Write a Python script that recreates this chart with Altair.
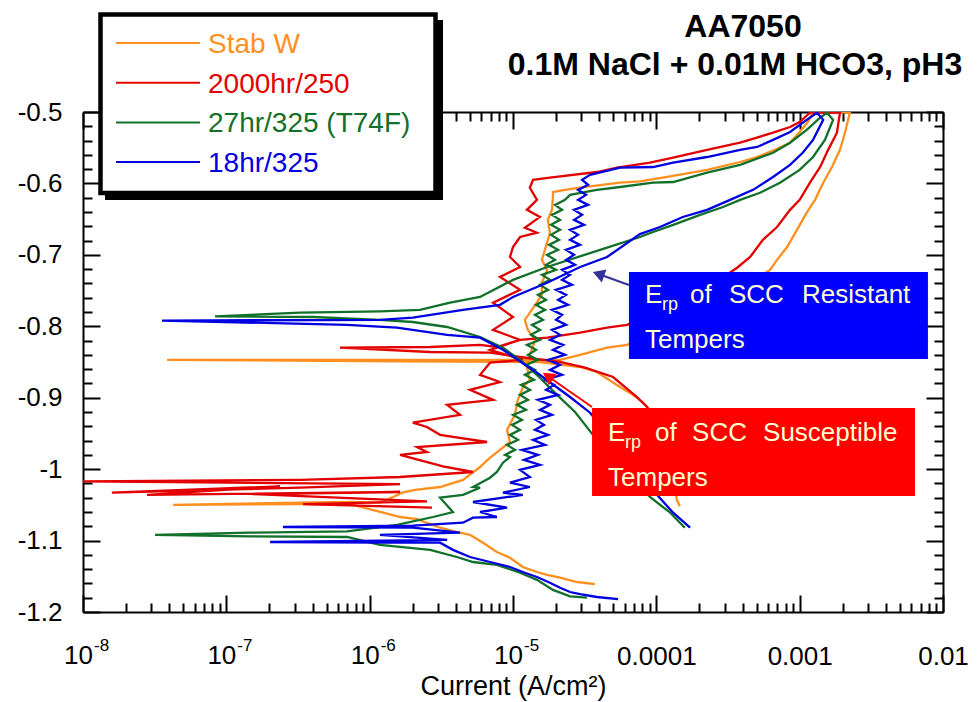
import altair as alt
import pandas as pd

FONT = "Liberation Sans"

SERIES = ["Stab W", "2000hr/250", "27hr/325 (T74F)", "18hr/325"]
COLORS = ["#FF8F1F", "#E30000", "#11702A", "#0000E0"]

# (current A/cm2, potential V) in scan order
stab_w = [
    (3.73e-5, -1.161), (2.80e-5, -1.158), (2.13e-5, -1.152), (1.73e-5, -1.148), (1.47e-5, -1.144),
    (1.17e-5, -1.137), (9.53e-6, -1.124), (7.72e-6, -1.116), (6.18e-6, -1.103), (5.01e-6, -1.092),
    (4.06e-6, -1.088), (3.10e-6, -1.082), (2.14e-6, -1.070), (1.63e-6, -1.067), (1.24e-6, -1.061),
    (7.66e-7, -1.050), (3.27e-7, -1.049), (4.25e-8, -1.050), (3.27e-7, -1.047), (7.30e-7, -1.046),
    (1.18e-6, -1.047), (1.46e-6, -1.039), (1.68e-6, -1.033), (2.07e-6, -1.029), (3.10e-6, -1.025),
    (4.48e-6, -1.015), (5.89e-6, -0.997), (6.92e-6, -0.984), (8.11e-6, -0.973), (9.53e-6, -0.962),
    (9.08e-6, -0.945), (1.03e-5, -0.924), (1.08e-5, -0.903), (1.17e-5, -0.886), (1.31e-5, -0.875),
    (1.25e-5, -0.857), (1.31e-5, -0.840), (1.43e-5, -0.819), (1.27e-5, -0.805), (1.21e-5, -0.791),
    (1.43e-5, -0.770), (1.59e-5, -0.756), (1.59e-5, -0.739), (1.73e-5, -0.721), (1.59e-5, -0.707),
    (1.67e-5, -0.693), (1.81e-5, -0.669), (1.75e-5, -0.651), (1.87e-5, -0.637), (1.90e-5, -0.619),
    (1.90e-5, -0.612), (2.31e-5, -0.609), (2.94e-5, -0.606), (5.58e-5, -0.599), (7.69e-5, -0.597),
    (1.25e-4, -0.590), (2.26e-4, -0.581), (3.84e-4, -0.570), (5.04e-4, -0.563), (6.73e-4, -0.553),
    (8.57e-4, -0.543), (1.00e-3, -0.528), (1.14e-3, -0.514), (1.24e-3, -0.500), (2.24e-3, -0.501),
    (2.07e-3, -0.529), (1.91e-3, -0.553), (1.68e-3, -0.577), (1.46e-3, -0.599), (1.28e-3, -0.623),
    (1.12e-3, -0.641), (9.57e-4, -0.665), (8.17e-4, -0.689), (6.95e-4, -0.707), (6.21e-4, -0.721),
    (2.02e-4, -0.784), (6.24e-5, -0.826), (4.53e-5, -0.830), (2.94e-5, -0.840), (2.13e-5, -0.847),
    (1.54e-5, -0.847), (1.63e-6, -0.847), (3.86e-8, -0.847), (1.63e-6, -0.849), (1.54e-5, -0.850),
    (2.94e-5, -0.857), (3.85e-5, -0.864), (5.58e-5, -0.885), (6.87e-5, -0.896), (8.07e-5, -0.907),
    (9.80e-5, -0.924), (1.15e-4, -0.959), (1.29e-4, -1.001), (1.39e-4, -1.043), (1.46e-4, -1.052),
]

hr2000_250 = [
    (2.72e-6, -1.054), (3.43e-7, -1.049), (2.51e-6, -1.045), (1.53e-7, -1.035), (1.63e-6, -1.032),
    (2.80e-8, -1.036), (2.37e-7, -1.024), (1.59e-8, -1.033), (3.27e-7, -1.026), (1.63e-6, -1.021),
    (1.00e-8, -1.017), (3.27e-7, -1.015), (1.63e-6, -1.011), (5.26e-6, -1.004), (3.25e-6, -0.996),
    (1.63e-6, -0.980), (2.51e-6, -0.976), (2.14e-6, -0.969), (6.59e-6, -0.962), (3.10e-6, -0.952),
    (2.51e-6, -0.941), (2.00e-6, -0.935), (4.27e-6, -0.924), (3.47e-6, -0.910), (7.26e-6, -0.903),
    (5.01e-6, -0.889), (8.11e-6, -0.878), (5.89e-6, -0.868), (6.92e-6, -0.851), (1.17e-5, -0.847),
    (6.92e-6, -0.833), (1.12e-5, -0.819), (7.26e-6, -0.805), (1.00e-5, -0.787), (7.26e-6, -0.767),
    (1.12e-5, -0.749), (8.11e-6, -0.731), (1.12e-5, -0.717), (9.53e-6, -0.703), (1.00e-5, -0.689),
    (1.12e-5, -0.675), (1.47e-5, -0.669), (1.21e-5, -0.662), (1.54e-5, -0.647), (1.25e-5, -0.637),
    (1.47e-5, -0.623), (1.31e-5, -0.606), (1.38e-5, -0.595), (1.81e-5, -0.592), (3.85e-5, -0.584),
    (5.32e-5, -0.578), (9.03e-5, -0.571), (1.31e-4, -0.564), (2.26e-4, -0.553), (3.84e-4, -0.543),
    (6.52e-4, -0.529), (8.57e-4, -0.521), (1.00e-3, -0.514), (1.18e-3, -0.501), (1.91e-3, -0.501),
    (1.82e-3, -0.529), (1.58e-3, -0.553), (1.39e-3, -0.577), (1.18e-3, -0.599), (1.00e-3, -0.623),
    (8.57e-4, -0.637), (6.95e-4, -0.661), (5.54e-4, -0.679), (4.51e-4, -0.703), (3.66e-4, -0.718),
    (1.72e-4, -0.763), (6.24e-5, -0.798), (4.53e-5, -0.802), (2.94e-5, -0.809), (1.73e-5, -0.816),
    (1.12e-5, -0.819), (7.72e-6, -0.829), (5.89e-6, -0.826), (2.64e-6, -0.829), (6.21e-7, -0.830),
    (2.64e-6, -0.836), (6.92e-6, -0.837), (1.12e-5, -0.843), (2.13e-5, -0.850), (3.18e-5, -0.858),
    (4.99e-5, -0.871), (7.33e-5, -0.899), (8.61e-5, -0.913), (1.03e-4, -0.945), (1.15e-4, -0.987),
    (1.21e-4, -1.022),
]

hr27_325 = [
    (3.28e-5, -1.180), (2.50e-5, -1.178), (1.90e-5, -1.169), (1.47e-5, -1.155), (1.12e-5, -1.145),
    (7.72e-6, -1.134), (5.26e-6, -1.130), (4.06e-6, -1.123), (2.64e-6, -1.113), (1.18e-6, -1.106),
    (6.95e-7, -1.095), (1.46e-7, -1.094), (3.18e-8, -1.092), (1.46e-7, -1.089), (6.95e-7, -1.087),
    (1.55e-6, -1.078), (2.77e-6, -1.067), (3.81e-6, -1.060), (3.10e-6, -1.040), (4.48e-6, -1.036),
    (5.89e-6, -1.026), (5.26e-6, -1.025), (6.92e-6, -1.012), (7.72e-6, -1.004), (8.51e-6, -0.991),
    (9.53e-6, -0.983), (8.80e-6, -0.980), (1.033e-5, -0.973), (9.08e-6, -0.966), (1.083e-5, -0.959),
    (9.53e-6, -0.952), (1.119e-5, -0.945), (9.84e-6, -0.938), (1.155e-5, -0.931), (1.00e-5, -0.924),
    (1.232e-5, -0.917), (1.066e-5, -0.910), (1.272e-5, -0.903), (1.119e-5, -0.896), (1.314e-5, -0.889),
    (1.137e-5, -0.882), (1.401e-5, -0.875), (1.212e-5, -0.868), (1.424e-5, -0.861), (1.232e-5, -0.854),
    (1.494e-5, -0.847), (1.272e-5, -0.840), (1.447e-5, -0.833), (1.252e-5, -0.826), (1.543e-5, -0.819),
    (1.335e-5, -0.812), (1.543e-5, -0.805), (1.357e-5, -0.798), (1.620e-5, -0.791), (1.424e-5, -0.784),
    (1.672e-5, -0.777), (1.447e-5, -0.770), (1.700e-5, -0.763), (1.494e-5, -0.756), (1.755e-5, -0.749),
    (1.543e-5, -0.742), (1.813e-5, -0.735), (1.594e-5, -0.728), (1.997e-5, -0.721), (1.700e-5, -0.714),
    (1.965e-5, -0.707), (1.727e-5, -0.700), (2.062e-5, -0.693), (1.784e-5, -0.686), (2.095e-5, -0.679),
    (1.842e-5, -0.672), (2.129e-5, -0.665), (1.842e-5, -0.658), (2.129e-5, -0.651), (1.872e-5, -0.644),
    (2.199e-5, -0.637), (1.965e-5, -0.630), (2.307e-5, -0.623), (2.501e-5, -0.616),
    (3.85e-5, -0.609), (5.58e-5, -0.605), (9.48e-5, -0.599), (1.31e-4, -0.598),
    (2.26e-4, -0.585), (3.84e-4, -0.574), (6.52e-4, -0.557), (8.57e-4, -0.543), (1.12e-3, -0.525),
    (1.39e-3, -0.508), (1.55e-3, -0.501), (1.71e-3, -0.511), (1.50e-3, -0.539), (1.24e-3, -0.563),
    (1.00e-3, -0.581), (7.29e-4, -0.599), (5.29e-4, -0.613), (3.84e-4, -0.623), (2.92e-4, -0.633),
    (2.02e-4, -0.644), (1.31e-4, -0.658), (9.48e-5, -0.668), (7.69e-5, -0.675), (4.05e-5, -0.693),
    (1.73e-5, -0.717), (1.00e-5, -0.735), (5.89e-6, -0.759), (3.64e-6, -0.767), (2.24e-6, -0.777),
    (1.18e-6, -0.779), (3.27e-7, -0.781), (8.34e-8, -0.786), (4.03e-7, -0.787), (1.18e-6, -0.791),
    (2.00e-6, -0.794), (3.47e-6, -0.801), (5.89e-6, -0.815), (8.51e-6, -0.830), (1.12e-5, -0.847),
    (1.54e-5, -0.872), (2.03e-5, -0.896), (2.71e-5, -0.920), (3.61e-5, -0.952), (5.58e-5, -0.994),
    (9.03e-5, -1.039), (1.25e-4, -1.061), (1.58e-4, -1.082),
]

hr18_325 = [
    (5.41e-5, -1.182), (3.85e-5, -1.179), (2.94e-5, -1.175), (2.50e-5, -1.172), (2.13e-5, -1.166),
    (1.81e-5, -1.159), (1.47e-5, -1.151), (1.17e-5, -1.144), (9.53e-6, -1.137), (6.92e-6, -1.130),
    (5.01e-6, -1.123), (3.81e-6, -1.113), (3.10e-6, -1.103), (1.18e-6, -1.103), (2.02e-7, -1.102),
    (3.47e-6, -1.099), (1.18e-6, -1.092), (4.27e-6, -1.089), (2.00e-6, -1.082), (2.48e-7, -1.081),
    (2.00e-6, -1.079), (4.48e-6, -1.075), (5.26e-6, -1.068), (7.72e-6, -1.067), (5.89e-6, -1.060),
    (9.08e-6, -1.054), (5.26e-6, -1.046), (1.17e-5, -1.036), (8.51e-6, -1.033), (1.31e-5, -1.025),
    (9.53e-6, -1.019), (1.31e-5, -1.011),
    (1.119e-5, -1.001), (1.543e-5, -0.994), (1.193e-5, -0.987), (1.494e-5, -0.980), (1.155e-5, -0.973),
    (1.672e-5, -0.966), (1.379e-5, -0.959), (1.755e-5, -0.952), (1.424e-5, -0.945), (1.646e-5, -0.938),
    (1.447e-5, -0.931), (1.872e-5, -0.924), (1.543e-5, -0.917), (1.813e-5, -0.910), (1.494e-5, -0.903),
    (2.062e-5, -0.896), (1.700e-5, -0.889), (1.933e-5, -0.882), (1.672e-5, -0.875), (2.199e-5, -0.868),
    (1.813e-5, -0.861), (2.129e-5, -0.854), (1.755e-5, -0.847), (2.307e-5, -0.840), (1.902e-5, -0.833),
    (2.235e-5, -0.826), (1.813e-5, -0.819), (2.129e-5, -0.812), (1.872e-5, -0.805), (2.345e-5, -0.798),
    (1.997e-5, -0.791), (2.199e-5, -0.784), (1.872e-5, -0.777), (2.422e-5, -0.770), (2.062e-5, -0.763),
    (2.345e-5, -0.756), (1.997e-5, -0.749), (2.583e-5, -0.742), (2.199e-5, -0.735), (2.501e-5, -0.728),
    (2.199e-5, -0.721), (2.710e-5, -0.714), (2.345e-5, -0.707), (2.667e-5, -0.700), (2.345e-5, -0.693),
    (2.937e-5, -0.686), (2.501e-5, -0.679), (2.844e-5, -0.672), (2.501e-5, -0.665), (3.133e-5, -0.658),
    (2.667e-5, -0.651), (3.034e-5, -0.644), (2.667e-5, -0.637), (3.341e-5, -0.630), (2.844e-5, -0.623),
    (3.235e-5, -0.616), (2.844e-5, -0.609), (3.341e-5, -0.602), (3.034e-5, -0.595), (3.450e-5, -0.588),
    (5.58e-5, -0.578), (9.48e-5, -0.577),
    (1.31e-4, -0.571), (2.26e-4, -0.563), (3.84e-4, -0.553), (5.04e-4, -0.549), (6.52e-4, -0.539),
    (8.57e-4, -0.528), (1.12e-3, -0.511), (1.32e-3, -0.501), (1.46e-3, -0.511), (1.24e-3, -0.539),
    (1.05e-3, -0.557), (8.57e-4, -0.574), (6.52e-4, -0.591), (4.73e-4, -0.609), (3.27e-4, -0.623),
    (2.26e-4, -0.637), (1.53e-4, -0.647), (1.06e-4, -0.661), (7.69e-5, -0.671), (4.53e-5, -0.703),
    (2.94e-5, -0.717), (1.73e-5, -0.739), (1.00e-5, -0.759), (8.11e-6, -0.770), (4.48e-6, -0.777),
    (2.00e-6, -0.788), (1.18e-6, -0.791), (3.56e-8, -0.792), (6.95e-7, -0.798), (1.55e-6, -0.802),
    (3.47e-6, -0.812), (5.89e-6, -0.816), (8.51e-6, -0.833), (1.47e-5, -0.865), (2.50e-5, -0.899),
    (3.45e-5, -0.921), (5.58e-5, -0.973), (1.01e-4, -1.036), (1.31e-4, -1.061), (1.72e-4, -1.082),
]

CURVES = [stab_w, hr2000_250, hr27_325, hr18_325]

X_DECADES = [1e-8, 1e-7, 1e-6, 1e-5, 1e-4, 1e-3, 1e-2]
X_ALL_TICKS = [m * d for d in X_DECADES[:-1] for m in range(1, 10)] + [1e-2]
POW_DECADES = [1e-8, 1e-7, 1e-6, 1e-5]
POW_EXPONENTS = ["-8", "-7", "-6", "-5"]
Y_MAJOR = [-1.2, -1.1, -1.0, -0.9, -0.8, -0.7, -0.6, -0.5]
Y_ALL_TICKS = [round(-1.2 + 0.02 * i, 2) for i in range(36)]

TITLE_LINES = ["AA7050", "0.1M NaCl + 0.01M HCO3, pH3"]

# annotation boxes (data coordinates)
BLUE_BOX = {"x1": 6.44e-5, "x2": 7.85e-3, "y1": -0.724, "y2": -0.8458}
RED_BOX = {"x1": 3.56e-5, "x2": 6.38e-3, "y1": -0.9144, "y2": -1.0376}
BLUE_TIP = (3.95e-5, -0.7268)
RED_TIP = (1.75e-5, -0.870)

xscale = alt.Scale(type="log", domain=[1e-8, 1e-2], nice=False)
yscale = alt.Scale(domain=[-1.2, -0.5], nice=False, zero=False)

XLBL = ("datum.value < 5e-5 ? '' : datum.value < 2e-4 ? '0.0001' : "
        "datum.value < 2e-3 ? '0.001' : '0.01'")
YLBL = ("datum.value > -0.95 ? '-0.' + format(abs(datum.value) * 10, '.0f') : "
        "datum.value > -1.05 ? '-1' : '-1.' + format(abs(datum.value) * 10 - 10, '.0f')")
XMAJ = "abs(log(datum.value) / LN10 - round(log(datum.value) / LN10)) < 0.01"
YMAJ = "abs(datum.value * 10 - round(datum.value * 10)) < 0.01"

axis_x_main = alt.Axis(orient="bottom", values=X_DECADES, labelExpr=XLBL, ticks=False, tickSize=0,
                       domain=True, domainColor="black", domainWidth=2, grid=False,
                       labelFont=FONT, labelFontSize=26, labelColor="black", labelPadding=31,
                       labelFlush=False, labelOverlap=False,
                       title="Current (A/cm²)", titleFont=FONT, titleFontSize=27,
                       titleFontWeight="normal", titleColor="black", titleY=82,
                       titleBaseline="alphabetic")
axis_y_main = alt.Axis(orient="left", values=Y_MAJOR, labelExpr=YLBL, ticks=False, tickSize=0,
                       domain=True, domainColor="black", domainWidth=2, grid=False,
                       labelFont=FONT, labelFontSize=26, labelColor="black", labelPadding=21,
                       labelOverlap=False, title=None)

xtick = {"condition": {"test": XMAJ, "value": 17}, "value": 9}
ytick = {"condition": {"test": YMAJ, "value": 17}, "value": 9}

axis_x_in_bottom = alt.Axis(orient="top", offset=-500, values=X_ALL_TICKS, labels=False, domain=False,
                            grid=False, ticks=True, tickColor="black", tickWidth=2, tickSize=xtick, title=None)
axis_y_in_left = alt.Axis(orient="right", offset=-860, values=Y_ALL_TICKS, labels=False, domain=False,
                          grid=False, ticks=True, tickColor="black", tickWidth=2, tickSize=ytick, title=None)
axis_x_top = alt.Axis(orient="bottom", offset=-500, values=X_ALL_TICKS, labels=False, domain=True,
                      domainColor="black", domainWidth=2, grid=False, ticks=True, tickColor="black",
                      tickWidth=2, tickSize=xtick, title=None)
axis_y_right = alt.Axis(orient="left", offset=-860, values=Y_ALL_TICKS, labels=False, domain=True,
                        domainColor="black", domainWidth=2, grid=False, ticks=True, tickColor="black",
                        tickWidth=2, tickSize=ytick, title=None)

layers = []

# curves
for i, (pairs, color) in enumerate(zip(CURVES, COLORS)):
    df = pd.DataFrame(pairs, columns=["I", "E"])
    df["idx"] = range(len(df))
    layers.append(
        alt.Chart(df).mark_line(strokeWidth=2.3, clip=True, color=color).encode(
            x=alt.X("I:Q", scale=xscale, axis=axis_x_main if i == 0 else None),
            y=alt.Y("E:Q", scale=yscale, axis=axis_y_main if i == 0 else None),
            order=alt.Order("idx:Q"),
        )
    )

# extra axes (inward ticks and frame)
dummy = pd.DataFrame({"I": [1e-8], "E": [-1.2]})
layers.append(alt.Chart(dummy).mark_point(opacity=0).encode(
    x=alt.X("I:Q", scale=xscale, axis=axis_x_in_bottom),
    y=alt.Y("E:Q", scale=yscale, axis=axis_y_in_left)))
layers.append(alt.Chart(dummy).mark_point(opacity=0).encode(
    x=alt.X("I:Q", scale=xscale, axis=axis_x_top),
    y=alt.Y("E:Q", scale=yscale, axis=axis_y_right)))

# power-of-ten tick labels (base + raised exponent)
pw = pd.DataFrame({"I": POW_DECADES, "E": [-1.2] * len(POW_DECADES), "exp": POW_EXPONENTS})
layers.append(alt.Chart(pw).mark_text(align="right", baseline="alphabetic", dx=10, dy=52,
                                      font=FONT, fontSize=26, color="black").encode(
    x=alt.X("I:Q", scale=xscale, axis=None), y=alt.Y("E:Q", scale=yscale, axis=None),
    text=alt.value("10")))
layers.append(alt.Chart(pw).mark_text(align="left", baseline="alphabetic", dx=11, dy=39,
                                      font=FONT, fontSize=17, color="black").encode(
    x=alt.X("I:Q", scale=xscale, axis=None), y=alt.Y("E:Q", scale=yscale, axis=None),
    text="exp:N"))

# annotation boxes
boxes = pd.DataFrame([dict(BLUE_BOX, fill="#0000FF"), dict(RED_BOX, fill="#FF0000")])
layers.append(alt.Chart(boxes).mark_rect().encode(
    x=alt.X("x1:Q", scale=xscale, axis=None), x2="x2:Q",
    y=alt.Y("y1:Q", scale=yscale, axis=None), y2="y2:Q",
    fill=alt.Fill("fill:N", scale=None)))

# arrows
arrows = pd.DataFrame([
    {"x": BLUE_BOX["x1"], "y": -0.7422, "x2": BLUE_TIP[0], "y2": BLUE_TIP[1], "c": "#333399"},
    {"x": RED_BOX["x1"], "y": -0.913, "x2": RED_TIP[0], "y2": RED_TIP[1], "c": "#FF0000"},
])
layers.append(alt.Chart(arrows).mark_rule(strokeWidth=2).encode(
    x=alt.X("x:Q", scale=xscale, axis=None), x2="x2:Q",
    y=alt.Y("y:Q", scale=yscale, axis=None), y2="y2:Q",
    color=alt.Color("c:N", scale=None)))
for (tx, ty), ang, col in [(BLUE_TIP, 290, "#333399"), (RED_TIP, 305, "#FF0000")]:
    layers.append(alt.Chart(pd.DataFrame({"x": [tx], "y": [ty]})).mark_point(
        shape="triangle-up", filled=True, size=190, angle=ang, color=col, opacity=1).encode(
        x=alt.X("x:Q", scale=xscale, axis=None),
        y=alt.Y("y:Q", scale=yscale, axis=None)))

# annotation text (word, box, baseline potential, dx px, dy px, font size)
CREAM = "#FFFFD0"
words = [
    ("E", BLUE_BOX, -0.7674, 16, 0, 26), ("rp", BLUE_BOX, -0.7674, 33, 7, 18),
    ("of", BLUE_BOX, -0.7674, 61, 0, 26), ("SCC", BLUE_BOX, -0.7674, 100, 0, 26),
    ("Resistant", BLUE_BOX, -0.7674, 173, 0, 26), ("Tempers", BLUE_BOX, -0.8304, 16, 0, 26),
    ("E", RED_BOX, -0.9606, 16, 0, 26), ("rp", RED_BOX, -0.9606, 33, 7, 18),
    ("of", RED_BOX, -0.9606, 63, 0, 26), ("SCC", RED_BOX, -0.9606, 100, 0, 26),
    ("Susceptible", RED_BOX, -0.9606, 171, 0, 26), ("Tempers", RED_BOX, -1.0236, 16, 0, 26),
]
for w, box, yb, dx, dy, fs in words:
    layers.append(alt.Chart(pd.DataFrame({"x": [box["x1"]], "y": [yb], "t": [w]})).mark_text(
        align="left", baseline="alphabetic", dx=dx, dy=dy, font=FONT, fontSize=fs, color=CREAM).encode(
        x=alt.X("x:Q", scale=xscale, axis=None),
        y=alt.Y("y:Q", scale=yscale, axis=None),
        text="t:N"))

# legend box (pixel layout relative to plot origin)
one = pd.DataFrame({"k": [0]})
layers.append(alt.Chart(one).mark_rect(color="black").encode(
    x=alt.value(22), x2=alt.value(360), y=alt.value(-92), y2=alt.value(88)))
layers.append(alt.Chart(one).mark_rect(fill="white", stroke="black", strokeWidth=4.5).encode(
    x=alt.value(17.5), x2=alt.value(352.5), y=alt.value(-97.5), y2=alt.value(81)))
leg = pd.DataFrame({"name": SERIES, "color": COLORS, "row": list(range(len(SERIES)))})
layers.append(alt.Chart(leg).transform_calculate(ly="-69 + 39.7 * datum.row").mark_rule(strokeWidth=2).encode(
    x=alt.value(33), x2=alt.value(117),
    y=alt.Y("ly:Q", scale=None, axis=None),
    color=alt.Color("color:N", scale=None)))
layers.append(alt.Chart(leg).transform_calculate(ty="-67 + 39.7 * datum.row").mark_text(
    align="left", baseline="middle", font=FONT, fontSize=28).encode(
    x=alt.value(125),
    y=alt.Y("ty:Q", scale=None, axis=None),
    text="name:N",
    color=alt.Color("color:N", scale=None)))

# title lines
layers.append(alt.Chart(pd.DataFrame({"t": [TITLE_LINES[0]]})).mark_text(
    align="center", baseline="alphabetic", font=FONT, fontSize=32, fontWeight="bold", color="black").encode(
    x=alt.value(660), y=alt.value(-75), text="t:N"))
layers.append(alt.Chart(pd.DataFrame({"t": [TITLE_LINES[1]]})).mark_text(
    align="center", baseline="alphabetic", font=FONT, fontSize=32, fontWeight="bold", color="black").encode(
    x=alt.value(652), y=alt.value(-37), text="t:N"))

chart = alt.layer(*layers).resolve_axis(x="independent", y="independent").properties(
    width=860, height=500,
    autosize=alt.AutoSizeParams(type="none"),
    padding={"left": 83, "top": 112, "right": 35, "bottom": 90},
    background="white",
).configure_view(strokeWidth=0)

chart.save("out.html", embed_options={"renderer": "svg", "actions": False})
